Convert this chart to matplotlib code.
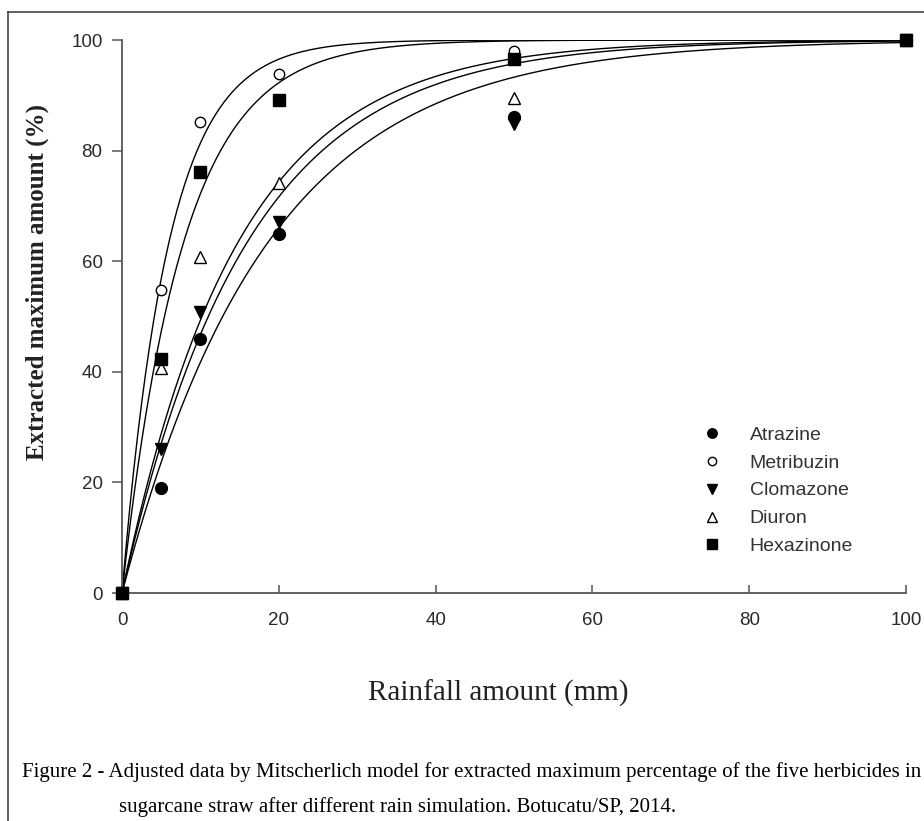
import matplotlib
matplotlib.use("Agg")
import matplotlib.pyplot as plt
from matplotlib.lines import Line2D
import numpy as np

# rainfall amounts (mm) and extracted percentages
rain = [0, 5, 10, 20, 50, 100]
atrazine = [0, 19, 46, 65, 86, 100]
metribuzin = [0, 54.8, 85.2, 93.8, 98, 100]
clomazone = [0, 26, 50.8, 67, 84.8, 100]
diuron = [0, 40.6, 60.8, 74.1, 89.5, 100]
hexazinone = [0, 42.3, 76.2, 89.2, 96.5, 100]

names = ["Atrazine", "Metribuzin", "Clomazone", "Diuron", "Hexazinone"]
series = [atrazine, metribuzin, clomazone, diuron, hexazinone]

# Mitscherlich fit y = a * (1 - exp(-c x)), parameters estimated from the curves
fit_a = [100, 100, 100, 100, 100]
fit_c = [0.054, 0.168, 0.063, 0.068, 0.128]

markers = ["o", "o", "v", "^", "s"]
faces = ["black", "white", "black", "white", "black"]
sizes = [8.5, 7.5, 8.5, 8.5, 8.5]

fig = plt.figure(figsize=(9.24, 8.21), dpi=100)
W, H = 924.0, 821.0
ax = fig.add_axes([122 / W, 1 - 593 / H, (906 - 122) / W, (593 - 40) / H])

xs = np.linspace(0, 100, 400)
for a, c in zip(fit_a, fit_c):
	ax.plot(xs, a * (1 - np.exp(-c * xs)), color="black", lw=1.0, zorder=2)

for vals, m, fc, ms in zip(series, markers, faces, sizes):
	ax.plot(rain, vals, linestyle="none", marker=m, ms=ms, mfc=fc, mec="black",
			mew=1.0, clip_on=False, zorder=3)

ax.set_xlim(0, 100)
ax.set_ylim(0, 100)
ax.set_xticks([0, 20, 40, 60, 80, 100])
ax.set_yticks([0, 20, 40, 60, 80, 100])
for s in ["top", "right"]:
	ax.spines[s].set_visible(False)
for s in ["left", "bottom"]:
	ax.spines[s].set_color("#555555")
	ax.spines[s].set_linewidth(1.3)

ax.tick_params(axis="x", direction="in", length=6, width=1.1, color="#555555",
			   pad=14, labelsize=13.5, labelcolor="#2a2a2a")
ax.tick_params(axis="y", direction="out", length=7, width=1.1, color="#555555",
			   pad=7, labelsize=13.5, labelcolor="#2a2a2a")
for lab in ax.get_xticklabels() + ax.get_yticklabels():
	lab.set_family("Liberation Sans")

# legend (markers only)
handles = [Line2D([], [], linestyle="none", marker=m, ms=ms * 0.8, mfc=fc,
				  mec="black", mew=1.0)
		   for m, fc, ms in zip(markers, faces, sizes)]
leg = fig.legend(handles, names, loc="upper left",
				 bbox_to_anchor=(704 / W, 1 - 426 / H),
				 frameon=False, borderpad=0, borderaxespad=0,
				 handlelength=0.8, handletextpad=1.55, labelspacing=0.53,
				 prop={"family": "Liberation Sans", "size": 14})
for t in leg.get_texts():
	t.set_color("#333333")

# axis titles
fig.text(37 / W, 1 - 282 / H, "Extracted maximum amount (%)", rotation=90,
		 ha="center", va="center", family="Liberation Serif", weight="bold",
		 size=18, color="#222222")
fig.text(498 / W, 1 - 693 / H, "Rainfall amount (mm)", ha="center", va="center",
		 family="Liberation Serif", size=21, color="#222222")

# caption
fig.text(22 / W, 1 - 777 / H,
		 "Figure 2 - Adjusted data by Mitscherlich model for extracted maximum "
		 "percentage of the five herbicides in",
		 ha="left", va="baseline", family="Liberation Serif", size=15.0)
fig.text(119 / W, 1 - 812 / H,
		 "sugarcane straw after different rain simulation. Botucatu/SP, 2014.",
		 ha="left", va="baseline", family="Liberation Serif", size=15.0)

# frame round the figure (left and top edges are visible)
fig.add_artist(Line2D([8 / W, 8 / W], [0, 1 - 12 / H], transform=fig.transFigure,
					  color="#444444", lw=1.2))
fig.add_artist(Line2D([8 / W, 1], [1 - 12 / H, 1 - 12 / H], transform=fig.transFigure,
					  color="#444444", lw=1.2))

fig.savefig("out.png", dpi=100)
